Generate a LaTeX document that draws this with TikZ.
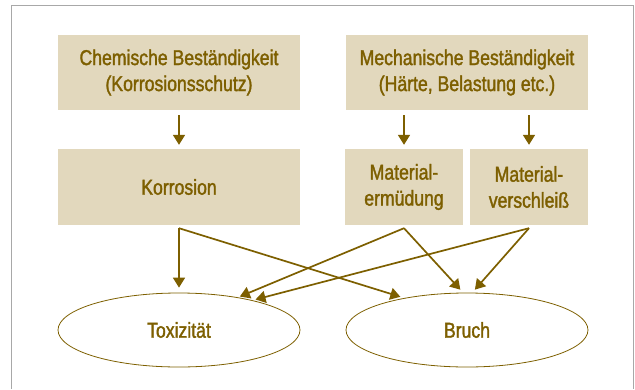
\documentclass[tikz,border=0pt]{standalone}
\usepackage{fontspec}
\setmainfont{Liberation Sans}[FakeStretch=0.82,FakeBold=1.6]
\usetikzlibrary{shapes.geometric,arrows.meta,calc}
\definecolor{gold}{HTML}{7D5F00}
\definecolor{sand}{HTML}{E2D8BD}
\definecolor{framegray}{HTML}{A8A8A8}

\begin{document}
\begin{tikzpicture}[x=1pt,y=-1pt,
  box/.style={fill=sand,text=gold,align=center,inner sep=0pt,
    minimum width=242pt,minimum height=75pt,font=\fontsize{21.5}{26}\selectfont},
  smallbox/.style={box,minimum width=118pt,minimum height=76pt},
  outcome/.style={ellipse,draw=gold,line width=0.8pt,text=gold,inner sep=0pt,
    minimum width=242pt,minimum height=74pt,font=\fontsize{21.5}{26}\selectfont},
  link/.style={-{Triangle[length=10pt,width=12pt]},draw=gold,line width=1.7pt}]
\useasboundingbox (0,0) rectangle (635,389);

% Frame, open at the bottom
\draw[framegray,line width=0.8pt] (11,389) -- (11,5.5) -- (633,5.5) -- (633,389);

% Causes
\node[box] (chem) at (179,72.5) {Chemische Beständigkeit\\(Korrosionsschutz)};
\node[box] (mech) at (467,72.5) {Mechanische Beständigkeit\\(Härte, Belastung etc.)};

% Mechanisms
\node[box,minimum height=76pt] (korr) at (179,187) {Korrosion};
\node[smallbox] (ermued) at (404,187) {Material-\\ermüdung};
\node[smallbox] (versch) at (529,187) {Material-\\verschleiß};

% Effects
\node[outcome] (tox) at (179,330) {Toxizität};
\node[outcome] (bruch) at (467,330) {Bruch};

% Top arrows
\draw[link,shorten <=5pt,shorten >=4pt] (chem) -- (korr);
\draw[link,shorten <=5pt,shorten >=4pt] (mech.south -| ermued.north) -- (ermued.north);
\draw[link,shorten <=5pt,shorten >=4pt] (mech.south -| versch.north) -- (versch.north);

% Start points below the boxes
\coordinate (k) at ($(korr.south)+(0,3)$);
\coordinate (e) at ($(ermued.south)+(0,3)$);
\coordinate (v) at ($(versch.south)+(0,3)$);

% Crossing arrows
\draw[link,shorten >=5pt] (k) -- (tox.north);
\draw[link,shorten >=4pt] (k) -- (bruch.153);
\draw[link,shorten >=2pt] (e) -- (tox.29);
\draw[link,shorten >=4pt] (e) -- (bruch.96);
\draw[link,shorten >=3pt] (v) -- (tox.22);
\draw[link,shorten >=4pt] (v) -- (bruch.82);

\end{tikzpicture}
\end{document}
